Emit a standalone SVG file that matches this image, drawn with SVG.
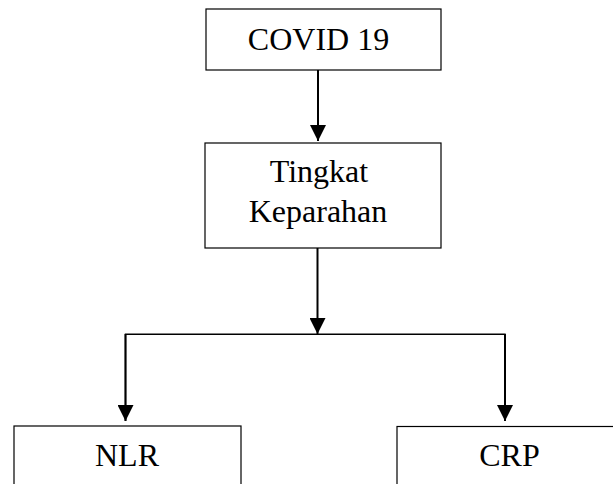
<svg xmlns="http://www.w3.org/2000/svg" width="613" height="484" viewBox="0 0 613 484">
<style>
.box{fill:#fff;stroke:#000;stroke-width:1.2}
.lbl{font-family:"Liberation Serif","Times New Roman",serif;font-size:32px;fill:#000;text-anchor:middle}
.con{fill:none;stroke:#000;stroke-width:2}
.hl{fill:none;stroke:#000;stroke-width:1.4}
</style>
<defs>
<marker id="ah" markerUnits="userSpaceOnUse" markerWidth="16" markerHeight="16" viewBox="0 0 16 16" refX="16" refY="8" orient="auto">
<path d="M0,0 L16,8 L0,16 Z" fill="#000"/>
</marker>
</defs>
<rect width="613" height="484" fill="#fff"/>
<g id="connectors">
<line class="con" x1="318" y1="70" x2="318" y2="141" marker-end="url(#ah)"/>
<line class="con" x1="317.5" y1="248" x2="317.5" y2="334" marker-end="url(#ah)"/>
<polyline class="hl" points="125.5,421 125.5,334.3 505,334.3 505,421"/>
<line class="con" x1="125.5" y1="334" x2="125.5" y2="421" marker-end="url(#ah)"/>
<line class="con" x1="505" y1="334" x2="505" y2="421" marker-end="url(#ah)"/>
</g>
<g id="covid">
<rect class="box" x="206" y="9" width="235" height="61"/>
<text class="lbl" x="318.5" y="50">COVID 19</text>
</g>
<g id="tingkat">
<rect class="box" x="205" y="143" width="236" height="105"/>
<text class="lbl" x="319" y="182">Tingkat</text>
<text class="lbl" x="318" y="222">Keparahan</text>
</g>
<g id="nlr">
<rect class="box" x="14" y="426" width="227" height="70"/>
<text class="lbl" x="127" y="466">NLR</text>
</g>
<g id="crp">
<rect class="box" x="397" y="426.5" width="230" height="70"/>
<text class="lbl" x="509.5" y="466">CRP</text>
</g>
</svg>
